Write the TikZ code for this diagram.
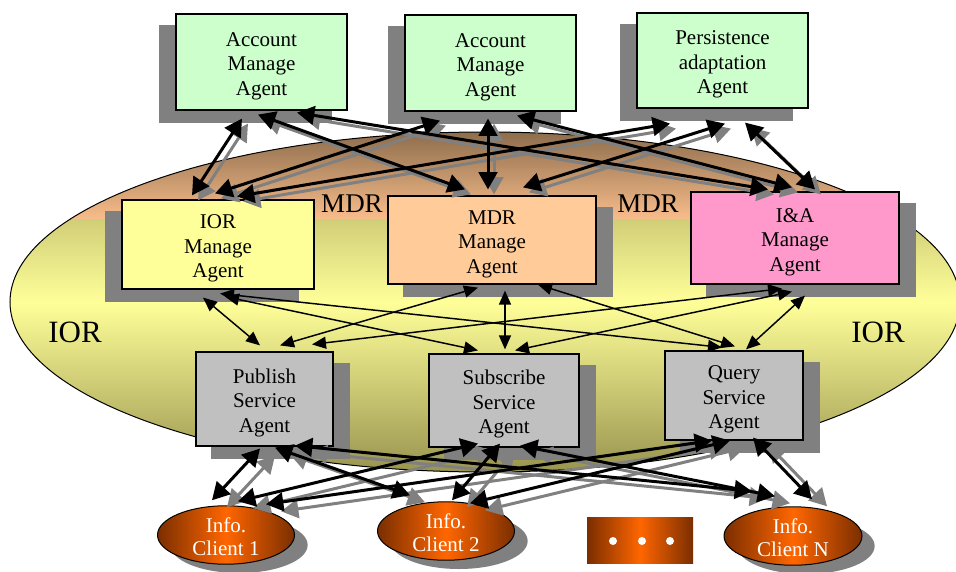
\documentclass[tikz,border=0pt]{standalone}
\usepackage{fontspec}
\setmainfont{Liberation Serif}
\usetikzlibrary{arrows.meta,calc,shapes.geometric}
\pgfdeclarelayer{back}
\pgfdeclarelayer{shade}
\pgfsetlayers{back,shade,main}
\definecolor{agentgreen}{HTML}{CCFFCC}
\definecolor{iorfill}{HTML}{FFFF99}
\definecolor{mdrfill}{HTML}{FFCC99}
\definecolor{iafill}{HTML}{FF99CC}
\definecolor{svcfill}{HTML}{C0C0C0}
\definecolor{shadowgray}{HTML}{808080}
\definecolor{clientdark}{HTML}{7A2E00}
\definecolor{clientorange}{HTML}{FF6600}
\definecolor{olivetop}{HTML}{A09A55}
\definecolor{olivebottom}{HTML}{99944F}
\definecolor{paleyellow}{HTML}{FFFF99}
\definecolor{browntop}{HTML}{8B6B4B}
\definecolor{peach}{HTML}{F7BC8A}

\begin{document}
\begin{tikzpicture}[x=0.75pt,y=-0.75pt,
  wh/.style 2 args={minimum width=#1*0.75pt, minimum height=#2*0.75pt},
  agent/.style={rectangle, draw=black, line width=0.9pt, inner sep=0pt, align=center,
    font=\fontsize{15.75}{18.4}\selectfont, text height=50pt, text depth=0pt},
  client/.style={ellipse, draw=black, line width=0.75pt, inner sep=0pt, align=center,
    left color=clientdark, right color=clientdark, middle color=clientorange,
    text=white, font=\fontsize{15.75}{17.5}\selectfont,
    text height=31pt, text depth=0pt},
  mdrlabel/.style={font=\fontsize{20.25}{24}\selectfont, inner sep=0pt},
  iorlabel/.style={font=\fontsize{23.25}{28}\selectfont, inner sep=0pt},
  thickarrow/.style={line width=2.25pt, draw=black,
    {Triangle[length=13pt,width=14pt]}-{Triangle[length=13pt,width=14pt]}},
  topsh/.style={thickarrow, draw=shadowgray, transform canvas={shift={(6,5)}}},
  botsh/.style={thickarrow, draw=shadowgray, transform canvas={shift={(15,7)}}},
  slimarrow/.style={line width=1.1pt, draw=black,
    {Triangle[length=10.5pt,width=9pt]}-{Triangle[length=10.5pt,width=9pt]}}
]
\useasboundingbox (0,0) rectangle (956,571);

% the IOR / MDR region
\begin{pgfonlayer}{back}
  \shade[top color=olivetop, bottom color=olivebottom, middle color=paleyellow]
    (485,302) ellipse [x radius=356.25pt, y radius=127.5pt];
  \begin{scope}
    \clip (485,302) ellipse [x radius=356.25pt, y radius=127.5pt];
    \shade[top color=browntop, bottom color=peach] (0,130) rectangle (960,218);
  \end{scope}
  \draw[line width=0.75pt] (485,302) ellipse [x radius=356.25pt, y radius=127.5pt];
\end{pgfonlayer}

\node[mdrlabel] (mdrl1) at (352,204) {MDR};
\node[mdrlabel] (mdrl2) at (648,204) {MDR};
\node[iorlabel] (iorl1) at (75,332.5) {IOR};
\node[iorlabel] (iorl2) at (878,332.5) {IOR};

% agents
\node[agent, wh={171}{96}, fill=agentgreen] (acc1) at (261.5,62) {Account\\Manage\\Agent};
\node[agent, wh={171}{96}, fill=agentgreen] (acc2) at (490.5,63) {Account\\Manage\\Agent};
\node[agent, wh={171}{95}, fill=agentgreen] (pers) at (722.5,60.5) {Persistence\\adaptation\\Agent};
\node[agent, wh={192}{89}, fill=iorfill] (ior) at (218,244.5) {IOR\\Manage\\Agent};
\node[agent, wh={208}{88}, fill=mdrfill] (mdr) at (492,240) {MDR\\Manage\\Agent};
\node[agent, wh={208}{92}, fill=iafill] (ia) at (795,238) {I\&A\\Manage\\Agent};
\node[agent, wh={137}{94}, fill=svcfill] (pub) at (264.5,399) {Publish\\Service\\Agent};
\node[agent, wh={150}{93}, fill=svcfill] (sub) at (504,400.5) {Subscribe\\Service\\Agent};
\node[agent, wh={138}{89}, fill=svcfill] (qry) at (734,395.5) {Query\\Service\\Agent};

% clients
\node[client, wh={137}{56}] (c1) at (226,535) {Info.\\Client 1};
\node[client, wh={137}{56}] (c2) at (446,531) {Info.\\Client 2};
\node[client, wh={138}{54}] (cn) at (793,536) {Info.\\Client N};
\node[rectangle, inner sep=0pt, wh={106}{46}, left color=clientdark, right color=clientdark,
  middle color=clientorange] (more) at (640,540) {};
\foreach \dx in {-27,2,30}
  \fill[white] ($(more.center)+(\dx,1)$) circle [radius=3pt];

% drop shadows
\begin{pgfonlayer}{shade}
  \foreach \n in {acc1,acc2,pers,ior}
    \fill[shadowgray] ([shift={(-16,12)}]\n.south west) rectangle ([shift={(-16,12)}]\n.north east);
  \foreach \n in {mdr,ia,pub,sub,qry}
    \fill[shadowgray] ([shift={(16,12)}]\n.south west) rectangle ([shift={(16,12)}]\n.north east);
  \foreach \n in {c1,c2,cn}
    \fill[shadowgray] ([shift={(13,10)}]\n.center) ellipse [x radius=51.5pt, y radius=21pt];
\end{pgfonlayer}

% upper agents <-> manage agents
\foreach \s in {topsh,thickarrow}{
  \draw[\s] ($(acc1.south)+(-19.5,8)$) -- ($(ior.north)+(-26,-4)$);
  \draw[\s] ($(acc1.south)+(-3.5,4)$) -- ($(mdr.north)+(-27,-6)$);
  \draw[\s] ($(acc1.south)+(35.5,2)$) -- ($(ia.north)+(-27,-2)$);
  \draw[\s] ($(acc2.south)+(-50.5,9)$) -- ($(ior.north)+(-3,-6)$);
  \draw[\s] ($(acc2.south)+(-2.5,7)$) -- ($(mdr.north)+(-4,-6)$);
  \draw[\s] ($(acc2.south)+(26.5,4)$) -- ($(ia.north)+(-3,-4)$);
  \draw[\s] ($(pers.south)+(-52.5,15)$) -- ($(ior.north)+(19,-3)$);
  \draw[\s] ($(pers.south)+(2.5,15)$) -- ($(mdr.north)+(31,-8)$);
  \draw[\s] ($(pers.south)+(22.5,14)$) -- ($(ia.north)+(20,-2)$);
}

% manage agents <-> service agents
\draw[slimarrow] ($(ior.south)+(-15,8)$) -- ($(pub.north)+(-4.5,-6)$);
\draw[slimarrow] ($(ior.south)+(7,7)$) -- ($(sub.north)+(-26,-3)$);
\draw[slimarrow] ($(ior.south)+(2,4)$) -- ($(qry.north)+(-12,-3)$);
\draw[slimarrow] ($(mdr.south)+(-14,3)$) -- ($(pub.north)+(15.5,-6)$);
\draw[slimarrow] ($(mdr.south)+(13,6)$) -- ($(sub.north)+(1,-4)$);
\draw[slimarrow] ($(mdr.south)+(46,0)$) -- ($(qry.north)+(1,-4)$);
\draw[slimarrow] ($(ia.south)+(-13,4)$) -- ($(pub.north)+(47.5,-7)$);
\draw[slimarrow] ($(ia.south)+(-3,7)$) -- ($(sub.north)+(11,-3)$);
\draw[slimarrow] ($(ia.south)+(10,11)$) -- ($(qry.north)+(12,-1)$);

% service agents <-> clients
\foreach \s in {botsh,thickarrow}{
  \draw[\s] ($(pub.south)+(-4.5,2)$) -- ($(c1.north)+(-14,-5)$);
  \draw[\s] ($(pub.south)+(10.5,1)$) -- ($(c2.north)+(-36,-6)$);
  \draw[\s] ($(pub.south)+(30.5,-1)$) -- ($(cn.north)+(-41,-15)$);
  \draw[\s] ($(sub.south)+(-26,-4)$) -- ($(c1.north)+(12,-4)$);
  \draw[\s] ($(sub.south)+(-4,-4)$) -- ($(c2.north)+(6,-1)$);
  \draw[\s] ($(sub.south)+(16,-2)$) -- ($(cn.north)+(-18,-10)$);
  \draw[\s] ($(qry.south)+(-22,0)$) -- ($(c1.north)+(40,-1)$);
  \draw[\s] ($(qry.south)+(-4,0)$) -- ($(c2.north)+(24,2)$);
  \draw[\s] ($(qry.south)+(19,-3)$) -- ($(cn.north)+(19,-7)$);
}
\end{tikzpicture}
\end{document}
